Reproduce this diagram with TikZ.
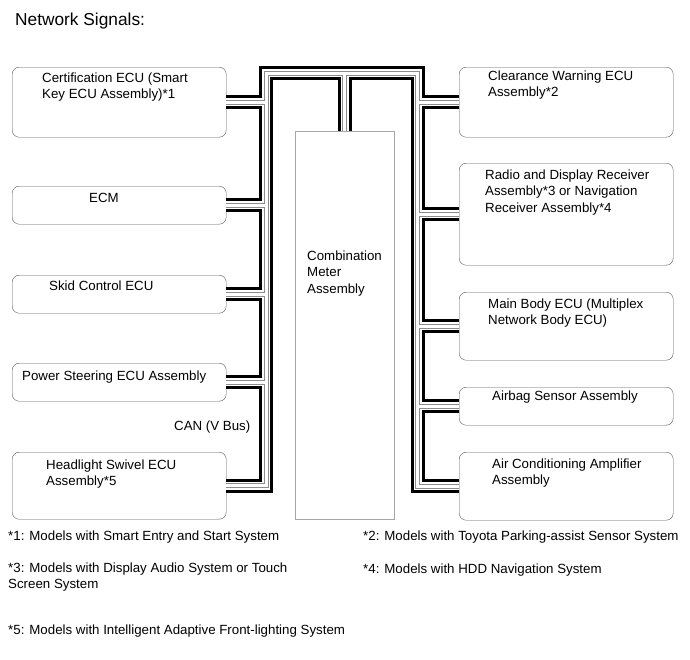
\documentclass[tikz,border=0pt]{standalone}
\usepackage{fontspec}
\setmainfont{Liberation Sans}

% the pair of bus wires, drawn in layers so that junctions merge
\newcommand{\canpath}{(hl.east) -| (lt) -- (rt) |- (ac.west)
    (cert.east) -- (cert.east -| lt)
    (ecm.east) -- (ecm.east -| lt)
    (skid.east) -- (skid.east -| lt)
    (eps.east) -- (eps.east -| lt)
    (meter.north) -- (meter.north |- lt)
    (cws.west) -- (cws.west -| rt)
    (radio.west) -- (radio.west -| rt)
    (body.west) -- (body.west -| rt)
    (airbag.west) -- (airbag.west -| rt)}

\begin{document}
\begin{tikzpicture}[x=1pt, y=-1pt, font=\fontsize{13.3}{16.5}\selectfont]
    \tikzset{ecu/.style = {shape=rectangle, draw=black!65, rounded corners=7pt, fill=white,
        anchor=north west, inner sep=0pt, minimum width=214pt}}
    \tikzset{txt/.style = {anchor=base west, align=left, inner sep=0pt}}
    \useasboundingbox (0,0) rectangle (690,659);

    \node[txt, font=\fontsize{17.3}{20}\selectfont] (title) at (15,25) {Network Signals:};

    % left units
    \node[ecu, minimum height=70pt] (cert) at (12,67) {};
    \node[ecu, minimum height=38pt] (ecm) at (12,186) {};
    \node[ecu, minimum height=38pt] (skid) at (12,275) {};
    \node[ecu, minimum height=38pt] (eps) at (12,363) {};
    \node[ecu, minimum height=67pt] (hl) at (12,452) {};

    % right units
    \node[ecu, minimum height=70pt] (cws) at (459,67) {};
    \node[ecu, minimum height=102pt] (radio) at (459,163) {};
    \node[ecu, minimum height=68pt] (body) at (459,292) {};
    \node[ecu, minimum height=38pt] (airbag) at (459,387) {};
    \node[ecu, minimum height=68pt] (ac) at (459,452) {};

    % meter
    \node[ecu, draw=black!35, rounded corners=0pt, minimum width=99pt, minimum height=388pt]
        (meter) at (295,131) {};

    \coordinate (lt) at (266,73);
    \coordinate (rt) at (417.5,73);

    % bus
    \foreach \w/\c in {14/black, 8/white, 5/black!45, 3/white}
        \draw[line width=\w pt, \c] \canpath;

    % texts (base = last line)
    \node[txt] (certtxt) at (42,98.5) {Certification ECU (Smart\\Key ECU Assembly)*1};
    \node[txt] (ecmtxt) at (89,202) {ECM};
    \node[txt] (skidtxt) at (49,290) {Skid Control ECU};
    \node[txt] (epstxt) at (22,380) {Power Steering ECU Assembly};
    \node[txt] (hltxt) at (46,485.5) {Headlight Swivel ECU\\Assembly*5};
    \node[txt] (cantxt) at (174,430) {CAN (V Bus)};
    \node[txt] (metertxt) at (307,293) {Combination\\Meter\\Assembly};
    \node[txt] (cwstxt) at (488,96.5) {Clearance Warning ECU\\Assembly*2};
    \node[txt] (radiotxt) at (485,212) {Radio and Display Receiver\\Assembly*3 or Navigation\\Receiver Assembly*4};
    \node[txt] (bodytxt) at (488,324.5) {Main Body ECU (Multiplex\\Network Body ECU)};
    \node[txt] (airbagtxt) at (492,400) {Airbag Sensor Assembly};
    \node[txt] (actxt) at (492,484.5) {Air Conditioning Amplifier\\Assembly};

    % notes
    \node[txt] (note1) at (8,540) {*1: Models with Smart Entry and Start System};
    \node[txt] (note2) at (363,540) {*2: Models with Toyota Parking-assist Sensor System};
    \node[txt] (note3) at (8,588.5) {*3: Models with Display Audio System or Touch\\Screen System};
    \node[txt] (note4) at (363,573) {*4: Models with HDD Navigation System};
    \node[txt] (note5) at (8,634) {*5: Models with Intelligent Adaptive Front-lighting System};
\end{tikzpicture}
\end{document}
